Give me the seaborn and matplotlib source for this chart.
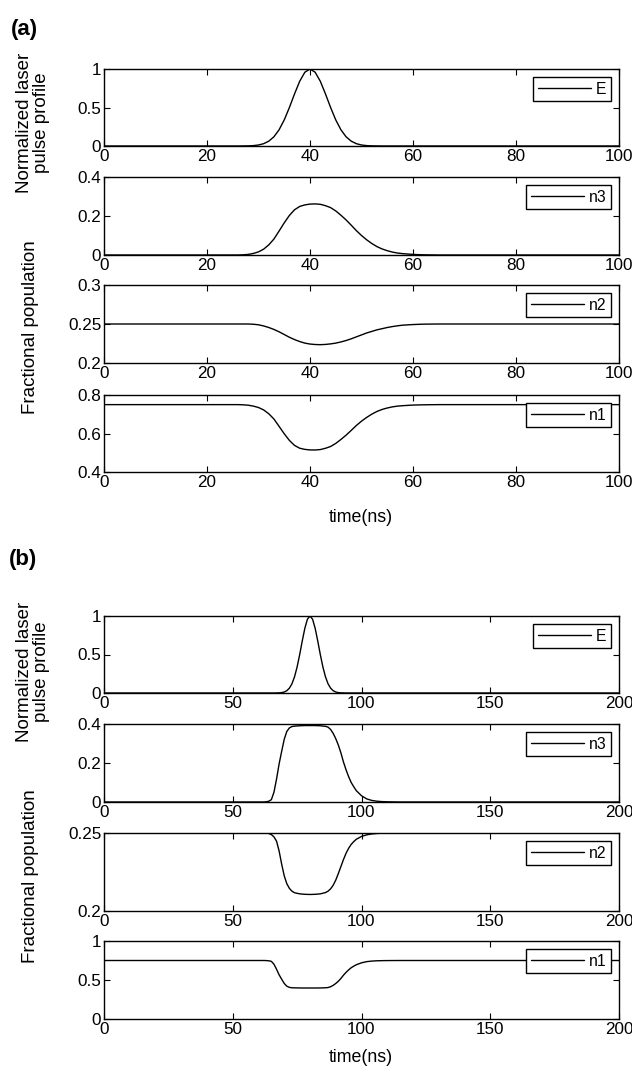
import numpy as np
import pandas as pd
import matplotlib
matplotlib.use("Agg")
import matplotlib.pyplot as plt
import seaborn as sns
from matplotlib import font_manager

# ---------------- data ----------------
# (a) laser pulse
t_a_E = [0, 25, 26, 27, 28, 29, 30, 31, 32, 33, 34, 35, 36, 37, 38, 39, 40,
         41, 42, 43, 44, 45, 46, 47, 48, 49, 50, 51, 52, 53, 54, 55, 100]
E_a = [0, 0, 0.000, 0.001, 0.002, 0.005, 0.013, 0.030, 0.063, 0.120, 0.211,
       0.339, 0.500, 0.677, 0.841, 0.958, 1.000, 0.958, 0.841, 0.677, 0.500,
       0.339, 0.211, 0.120, 0.063, 0.030, 0.013, 0.005, 0.002, 0.001, 0.000, 0, 0]

# (a) populations
t_a = [0, 26, 27, 28, 29, 30, 31, 32, 33, 34, 35, 36, 37, 38, 39, 40, 41, 42,
       43, 44, 45, 46, 47, 48, 49, 50, 51, 52, 53, 54, 55, 56, 57, 58, 60, 62,
       65, 100]
n3_a = [0, 0, 0.001, 0.003, 0.008, 0.016, 0.030, 0.052, 0.082, 0.123, 0.165,
        0.203, 0.232, 0.249, 0.257, 0.261, 0.262, 0.260, 0.253, 0.243, 0.226,
        0.204, 0.180, 0.153, 0.125, 0.100, 0.078, 0.059, 0.043, 0.031, 0.022,
        0.015, 0.010, 0.007, 0.003, 0.001, 0, 0]
n2_a = [0.25, 0.25, 0.25, 0.25, 0.2497, 0.249, 0.2475, 0.2455, 0.243, 0.240,
        0.2365, 0.233, 0.230, 0.2275, 0.2255, 0.2243, 0.2237, 0.2235, 0.2238,
        0.2245, 0.2255, 0.227, 0.2288, 0.231, 0.2335, 0.236, 0.2385, 0.2405,
        0.2425, 0.244, 0.2455, 0.2467, 0.2477, 0.2485, 0.2493, 0.2498, 0.25, 0.25]
n1_a = [0.75, 0.75, 0.749, 0.747, 0.7423, 0.735, 0.7225, 0.7025, 0.675, 0.637,
        0.5985, 0.564, 0.538, 0.5235, 0.5175, 0.5147, 0.5143, 0.5165, 0.5232,
        0.5325, 0.5485, 0.569, 0.5912, 0.616, 0.6415, 0.664, 0.6835, 0.7005,
        0.7145, 0.725, 0.7325, 0.7383, 0.7423, 0.7445, 0.7477, 0.7491, 0.75, 0.75]

# (b) laser pulse
t_b_E = [0, 65, 66, 67, 68, 69, 70, 71, 72, 73, 74, 75, 76, 77, 78, 79, 80,
         81, 82, 83, 84, 85, 86, 87, 88, 89, 90, 91, 92, 93, 94, 95, 200]
E_b = [0, 0, 0.000, 0.001, 0.002, 0.005, 0.013, 0.030, 0.063, 0.120, 0.211,
       0.339, 0.500, 0.677, 0.841, 0.958, 1.000, 0.958, 0.841, 0.677, 0.500,
       0.339, 0.211, 0.120, 0.063, 0.030, 0.013, 0.005, 0.002, 0.001, 0.000, 0, 0]

# (b) populations
t_b = [0, 62, 63, 64, 65, 66, 67, 68, 69, 70, 71, 72, 73, 74, 76, 78, 80, 82,
       84, 86, 87, 88, 89, 90, 91, 92, 93, 94, 95, 96, 97, 98, 100, 102, 104,
       106, 108, 110, 115, 200]
n3_b = [0, 0, 0.001, 0.004, 0.012, 0.050, 0.117, 0.195, 0.260, 0.322, 0.362,
        0.380, 0.387, 0.389, 0.391, 0.392, 0.392, 0.392, 0.391, 0.388, 0.384,
        0.372, 0.352, 0.325, 0.292, 0.252, 0.205, 0.165, 0.130, 0.100, 0.078,
        0.058, 0.032, 0.016, 0.008, 0.004, 0.002, 0.001, 0, 0]
n2_b = [0.25, 0.25, 0.25, 0.2497, 0.249, 0.2475, 0.2448, 0.2385, 0.230, 0.2225,
        0.2175, 0.2145, 0.2127, 0.2117, 0.211, 0.2107, 0.2106, 0.2107, 0.211,
        0.2118, 0.2127, 0.2142, 0.2165, 0.2198, 0.224, 0.2285, 0.233, 0.237,
        0.2402, 0.2427, 0.2445, 0.246, 0.2478, 0.2488, 0.2494, 0.2497, 0.2499,
        0.25, 0.25, 0.25]
n1_b = [0.75, 0.75, 0.749, 0.7463, 0.739, 0.7025, 0.6382, 0.5665, 0.510, 0.4555,
        0.4205, 0.4055, 0.4003, 0.3993, 0.398, 0.3973, 0.3974, 0.3973, 0.398,
        0.4002, 0.4033, 0.4138, 0.4315, 0.4552, 0.484, 0.5195, 0.562, 0.598,
        0.6298, 0.6573, 0.6775, 0.696, 0.7202, 0.7352, 0.7426, 0.7463, 0.7481,
        0.749, 0.75, 0.75]

xticks_a = [0, 20, 40, 60, 80, 100]
xticks_b = [0, 50, 100, 150, 200]
yt_E = [0, 0.5, 1]
yl_E = ["0", "0.5", "1"]
yt_n3 = [0, 0.2, 0.4]
yl_n3 = ["0", "0.2", "0.4"]
yt_n2a = [0.2, 0.25, 0.3]
yl_n2a = ["0.2", "0.25", "0.3"]
yt_n1a = [0.4, 0.6, 0.8]
yl_n1a = ["0.4", "0.6", "0.8"]
yt_n2b = [0.2, 0.25]
yl_n2b = ["0.2", "0.25"]
yt_n1b = [0, 0.5, 1]
yl_n1b = ["0", "0.5", "1"]

# ---------------- style ----------------
sns.set_style("ticks")
names = {f.name for f in font_manager.fontManager.ttflist}
HAS_NARROW = "Liberation Sans Narrow" in names
REG = ["Liberation Sans", "DejaVu Sans"]
HOR = (["Liberation Sans Narrow"] + REG) if HAS_NARROW else REG
FS = 13.5 if HAS_NARROW else 12.3
plt.rcParams["font.family"] = HOR
plt.rcParams["text.color"] = "black"
plt.rcParams["axes.labelcolor"] = "black"
plt.rcParams["xtick.color"] = "black"
plt.rcParams["ytick.color"] = "black"

W, H = 632, 1075
L, R = 104, 619
fig = plt.figure(figsize=(W / 100, H / 100), dpi=100)


def panel(top, bottom, t, y, name, xlim, xt, ylim, yt, yl):
    ax = fig.add_axes([L / W, 1 - bottom / H, (R - L) / W, (bottom - top) / H])
    df = pd.DataFrame({"t": t, "v": y})
    sns.lineplot(data=df, x="t", y="v", ax=ax, color="black", linewidth=1.0,
                 label=name)
    ax.set_xlim(*xlim)
    ax.set_ylim(*ylim)
    ax.set_xticks(xt)
    ax.set_xticklabels([str(v) for v in xt])
    ax.set_yticks(yt)
    ax.set_yticklabels(yl)
    ax.set_xlabel("")
    ax.set_ylabel("")
    ax.tick_params(direction="in", top=True, right=True, length=4, width=0.8,
                   labelsize=FS, pad=2, colors="black", labelcolor="black")
    for s in ax.spines.values():
        s.set_linewidth(1.0)
        s.set_color("black")
        s.set_visible(True)
    leg = ax.legend(loc="upper right", frameon=True, fancybox=False,
                    edgecolor="black", framealpha=1, fontsize=FS - 1,
                    handlelength=3.4, handletextpad=0.3, borderpad=0.3,
                    borderaxespad=0.5)
    leg.get_frame().set_linewidth(1.0)
    return ax


# (a)
panel(69, 146, t_a_E, E_a, "E", (0, 100), xticks_a, (0, 1), yt_E, yl_E)
panel(177, 255, t_a, n3_a, "n3", (0, 100), xticks_a, (0, 0.4), yt_n3, yl_n3)
panel(285, 363, t_a, n2_a, "n2", (0, 100), xticks_a, (0.2, 0.3), yt_n2a, yl_n2a)
panel(395, 472, t_a, n1_a, "n1", (0, 100), xticks_a, (0.4, 0.8), yt_n1a, yl_n1a)
# (b)
panel(616, 693, t_b_E, E_b, "E", (0, 200), xticks_b, (0, 1), yt_E, yl_E)
panel(724, 802, t_b, n3_b, "n3", (0, 200), xticks_b, (0, 0.4), yt_n3, yl_n3)
panel(833, 911, t_b, n2_b, "n2", (0, 200), xticks_b, (0.2, 0.25), yt_n2b, yl_n2b)
panel(941, 1019, t_b, n1_b, "n1", (0, 200), xticks_b, (0, 1), yt_n1b, yl_n1b)

# texts
def ftext(x, y, s, **kw):
    fig.text(x / W, 1 - y / H, s, **kw)

ftext(11, 29, "(a)", ha="left", va="center", fontsize=16, fontweight="bold",
      family=REG)
ftext(9, 560, "(b)", ha="left", va="center", fontsize=16, fontweight="bold",
      family=REG)
for yc in (123, 672):
    ftext(33, yc, "Normalized laser\npulse profile", rotation=90, ha="center",
          va="center", fontsize=13.5, family=REG, multialignment="center",
          linespacing=1.05)
for yc in (327, 876):
    ftext(31, yc, "Fractional population", rotation=90, ha="center",
          va="center", fontsize=13.5, family=REG)
for yc in (518, 1057):
    ftext(361, yc, "time(ns)", ha="center", va="center", fontsize=FS + 0.5)

fig.savefig("out.png", dpi=100)
